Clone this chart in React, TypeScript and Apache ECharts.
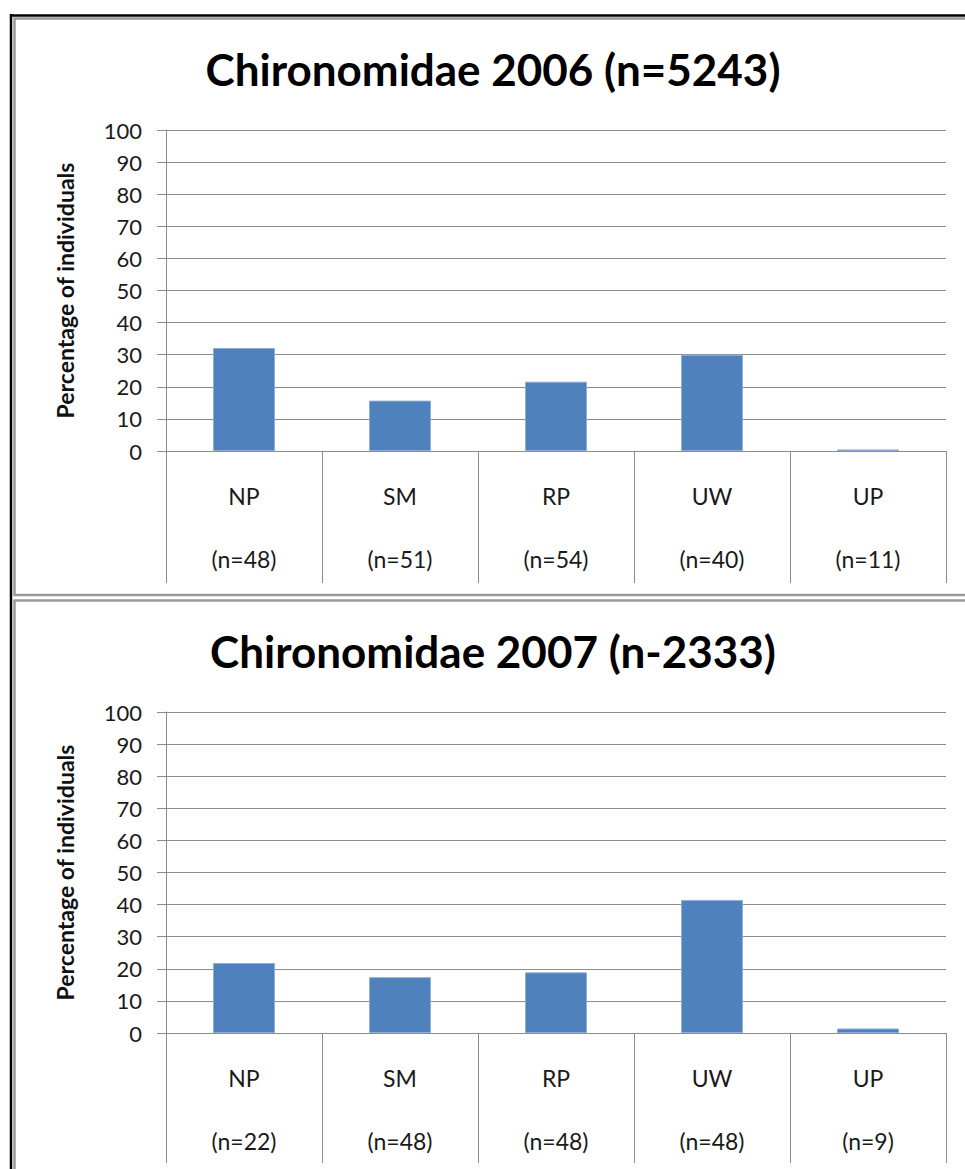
import React, { useEffect, useRef } from "react";
import * as echarts from "echarts";

const categories = ["NP", "SM", "RP", "UW", "UP"];
const sampleSizes2006 = ["(n=48)", "(n=51)", "(n=54)", "(n=40)", "(n=11)"];
const sampleSizes2007 = ["(n=22)", "(n=48)", "(n=48)", "(n=48)", "(n=9)"];
const values2006 = [32.1, 15.7, 21.6, 30.0, 0.5];
const values2007 = [21.8, 17.4, 18.9, 41.4, 1.4];
const titles = ["Chironomidae 2006 (n=5243)", "Chironomidae 2007 (n-2333)"];
const yAxisTitle = "Percentage of individuals";
const yMin = 0;
const yMax = 100;
const yStep = 10;

const FONT = "Lato, 'Noto Sans', sans-serif";
const GRID_COLOR = "#8c8c8c";
const BAR_COLOR = "#4F81BD";

export default function App() {
  const ref = useRef<HTMLDivElement>(null);

  useEffect(() => {
    if (!ref.current) return;
    const chart = echarts.init(ref.current, undefined, { renderer: "svg" });

    const grids = [
      { left: 166, top: 130, width: 780, height: 321 },
      { left: 166, top: 712, width: 780, height: 321 },
    ];
    const sizes = [sampleSizes2006, sampleSizes2007];
    const vals = [values2006, values2007];
    const tickLens = [132, 130];

    const xAxes = grids.map((_, gi) => ({
      type: "category",
      gridIndex: gi,
      data: categories,
      axisLine: { lineStyle: { color: GRID_COLOR, width: 1 } },
      axisTick: {
        show: true,
        interval: 0,
        length: tickLens[gi],
        lineStyle: { color: GRID_COLOR, width: 1 },
      },
      axisLabel: {
        interval: 0,
        margin: 29,
        color: "#1a1a1a",
        fontFamily: FONT,
        fontSize: 23,
        lineHeight: 31.5,
        formatter: (v: string, idx: number) => v + "\n\n" + sizes[gi][idx],
      },
    }));

    const yAxes = grids.map((_, gi) => ({
      type: "value",
      gridIndex: gi,
      min: yMin,
      max: yMax,
      interval: yStep,
      name: yAxisTitle,
      nameLocation: "middle",
      nameGap: 90,
      nameTextStyle: {
        fontFamily: FONT,
        fontSize: 23,
        fontWeight: "bold",
        color: "#111",
      },
      axisLine: { show: true, lineStyle: { color: GRID_COLOR, width: 1 } },
      axisTick: {
        show: true,
        inside: false,
        length: 9,
        lineStyle: { color: GRID_COLOR, width: 1 },
      },
      axisLabel: {
        margin: 24,
        color: "#1a1a1a",
        fontFamily: FONT,
        fontSize: 22,
      },
      splitLine: { show: true, lineStyle: { color: GRID_COLOR, width: 1 } },
    }));

    const series = grids.map((_, gi) => ({
      type: "bar",
      xAxisIndex: gi,
      yAxisIndex: gi,
      data: vals[gi],
      barWidth: 62,
      itemStyle: {
        color: BAR_COLOR,
        borderColor: "#8DAEDA",
        borderWidth: 1,
      },
    }));

    const titleStyle = {
      fontFamily: FONT,
      fontSize: 44,
      fontWeight: "bold",
      fill: "#000",
      textAlign: "center",
      textVerticalAlign: "middle",
    };

    chart.setOption({
      animation: false,
      backgroundColor: "#ffffff",
      grid: grids,
      xAxis: xAxes,
      yAxis: yAxes,
      series,
      graphic: [
        {
          type: "line",
          shape: { x1: 11, y1: 14, x2: 11, y2: 1169 },
          style: { stroke: "#000", lineWidth: 2.5 },
        },
        {
          type: "line",
          shape: { x1: 10, y1: 15.5, x2: 965, y2: 15.5 },
          style: { stroke: "#000", lineWidth: 2.5 },
        },
        {
          type: "rect",
          shape: { x: 14.5, y: 18.5, width: 1000, height: 576.5 },
          style: { fill: "none", stroke: "#9a9a9a", lineWidth: 2.5 },
        },
        {
          type: "rect",
          shape: { x: 14.5, y: 600.5, width: 1000, height: 700 },
          style: { fill: "none", stroke: "#9a9a9a", lineWidth: 2.5 },
        },
        {
          type: "text",
          x: 493,
          y: 69,
          style: { ...titleStyle, text: titles[0] },
        },
        {
          type: "text",
          x: 493,
          y: 651,
          style: { ...titleStyle, text: titles[1] },
        },
      ],
    });

    return () => chart.dispose();
  }, []);

  return (
    <div
      ref={ref}
      style={{ position: "absolute", left: 0, top: 0, width: 965, height: 1169 }}
    />
  );
}
